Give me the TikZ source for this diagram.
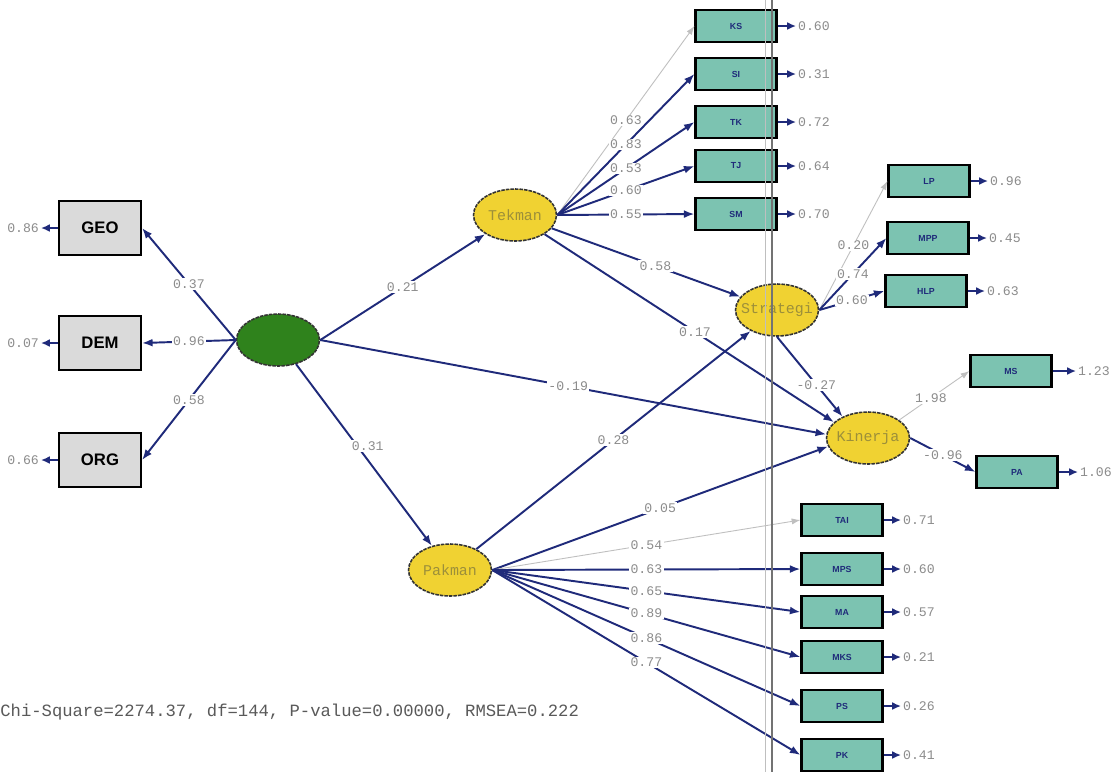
\documentclass[tikz,border=0pt]{standalone}
\usepackage{fontspec}
\setmonofont{Liberation Mono}
\setsansfont{Liberation Sans}
\definecolor{pathnavy}{HTML}{1F2A7A}
\definecolor{boxteal}{HTML}{7CC3B1}
\definecolor{boxgray}{HTML}{DADADA}
\definecolor{latyellow}{HTML}{F0D232}
\definecolor{latgreen}{HTML}{2F821C}
\definecolor{numgray}{HTML}{8C8C8C}
\definecolor{latolive}{HTML}{9C8F3A}
\usetikzlibrary{shapes,arrows.meta,positioning}

\begin{document}
\begin{tikzpicture}[x=0.02cm,y=-0.02cm,
    obs/.style={draw=black,line width=1.2pt,fill=boxgray,minimum width=1.64cm,minimum height=1.08cm,inner sep=0pt,font=\fontsize{9.5}{10}\sffamily\bfseries},
    ind/.style={draw=black,line width=1.2pt,fill=boxteal,minimum width=1.62cm,minimum height=0.64cm,inner sep=0pt,font=\fontsize{5}{6}\sffamily\bfseries,text=pathnavy},
    lat/.style={ellipse,draw=black!80,line width=0.9pt,dash pattern=on 2pt off 0.6pt,fill=latyellow,minimum width=1.66cm,minimum height=1.04cm,inner ysep=0pt,inner xsep=-0.2cm,font=\fontsize{8.5}{9}\ttfamily,text=latolive},
    lbl/.style={fill=white,inner sep=0.8pt,font=\fontsize{7.5}{8}\ttfamily,text=numgray},
    ev/.style={inner sep=1pt,font=\fontsize{7.5}{8}\ttfamily,text=numgray},
    pth/.style={draw=pathnavy,line width=1.1pt,-{Latex[length=6pt,width=4.5pt]}},
    fixd/.style={draw=black!25,line width=0.5pt,-{Latex[length=5pt,width=3.5pt]}},
    erra/.style={draw=pathnavy,line width=1.3pt,-{Latex[length=5pt,width=4.5pt]}}]
    \useasboundingbox[fill=white] (0,0) rectangle (1114,772);
    \node[obs] (GEO) at (100,228) {GEO};
    \node[obs] (DEM) at (100,343) {DEM};
    \node[obs] (ORG) at (100,460) {ORG};
    \node[ev,anchor=east] (eGEO) at (41,228) {0.86};
    \node[ev,anchor=east] (eDEM) at (41,343) {0.07};
    \node[ev,anchor=east] (eORG) at (41,460) {0.66};
    \node[lat,fill=latgreen] (G) at (278,340) {};
    \node[lat] (tek) at (515,215) {Tekman};
    \node[lat] (str) at (777,310) {Strategi};
    \node[lat] (kin) at (868,438) {Kinerja};
    \node[lat] (pak) at (450,570) {Pakman};
    \node[ind] (KS) at (736,26) {KS};
    \node[ind] (SI) at (736,74) {SI};
    \node[ind] (TK) at (736,122) {TK};
    \node[ind] (TJ) at (736,166) {TJ};
    \node[ind] (SM) at (736,214) {SM};
    \node[ind] (LP) at (929,181) {LP};
    \node[ind] (MPP) at (928,238) {MPP};
    \node[ind] (HLP) at (926,291) {HLP};
    \node[ind] (MS) at (1011,371) {MS};
    \node[ind] (PA) at (1017,472) {PA};
    \node[ind] (TAI) at (842,520) {TAI};
    \node[ind] (MPS) at (842,569) {MPS};
    \node[ind] (MA) at (842,612) {MA};
    \node[ind] (MKS) at (842,657) {MKS};
    \node[ind] (PS) at (842,706) {PS};
    \node[ind] (PK) at (842,755) {PK};
    \node[ev,anchor=west] (eKS) at (796,26) {0.60};
    \node[ev,anchor=west] (eSI) at (796,74) {0.31};
    \node[ev,anchor=west] (eTK) at (796,122) {0.72};
    \node[ev,anchor=west] (eTJ) at (796,166) {0.64};
    \node[ev,anchor=west] (eSM) at (796,214) {0.70};
    \node[ev,anchor=west] (eLP) at (988,181) {0.96};
    \node[ev,anchor=west] (eMPP) at (987,238) {0.45};
    \node[ev,anchor=west] (eHLP) at (985,291) {0.63};
    \node[ev,anchor=west] (eMS) at (1076,371) {1.23};
    \node[ev,anchor=west] (ePA) at (1078,472) {1.06};
    \node[ev,anchor=west] (eTAI) at (901,520) {0.71};
    \node[ev,anchor=west] (eMPS) at (901,569) {0.60};
    \node[ev,anchor=west] (eMA) at (901,612) {0.57};
    \node[ev,anchor=west] (eMKS) at (901,657) {0.21};
    \node[ev,anchor=west] (ePS) at (901,706) {0.26};
    \node[ev,anchor=west] (ePK) at (901,755) {0.41};
    \foreach \b in {GEO,DEM,ORG}
        \draw[erra] (\b.west) -- (e\b.east);
    \foreach \b in {KS,SI,TK,TJ,SM,LP,MPP,HLP,MS,PA,TAI,MPS,MA,MKS,PS,PK}
        \draw[erra] (\b.east) -- (e\b.west);
    \draw[pth] (G.west) -- node[lbl] {0.37} (GEO.east);
    \draw[pth] (G.west) -- node[lbl] {0.96} (DEM.east);
    \draw[pth] (G.west) -- node[lbl] {0.58} (ORG.east);
    \draw[pth] (G.east) -- node[lbl] {0.21} (tek);
    \draw[pth] (G) -- node[lbl,pos=0.45,xshift=6pt] {0.31} (pak);
    \draw[pth] (G.east) -- node[lbl,pos=0.49] {-0.19} (kin.175);
    \draw[fixd] (tek.east) -- node[lbl] {0.63} (KS.west);
    \draw[pth] (tek.east) -- node[lbl] {0.83} (SI.west);
    \draw[pth] (tek.east) -- node[lbl] {0.53} (TK.west);
    \draw[pth] (tek.east) -- node[lbl] {0.60} (TJ.west);
    \draw[pth] (tek.east) -- node[lbl] {0.55} (SM.west);
    \draw[pth] (tek) -- node[lbl,pos=0.55] {0.58} (str);
    \draw[pth] (tek) -- node[lbl,pos=0.52] {0.17} (kin.155);
    \draw[pth] (pak) -- node[lbl,pos=0.5] {0.28} (str);
    \draw[pth] (pak.east) -- node[lbl] {0.05} (kin.192);
    \draw[pth] (str.south) -- node[lbl,pos=0.6] {-0.27} (kin.140);
    \draw[fixd] (str.east) -- node[lbl] {0.20} (LP.west);
    \draw[pth] (str.east) -- node[lbl] {0.74} (MPP.west);
    \draw[pth] (str.east) -- node[lbl] {0.60} (HLP.west);
    \draw[fixd] (kin.30) -- node[lbl,pos=0.45] {1.98} (MS.west);
    \draw[pth] (kin.east) -- node[lbl,pos=0.5] {-0.96} (PA.west);
    \draw[fixd] (pak.east) -- node[lbl] {0.54} (TAI.west);
    \draw[pth] (pak.east) -- node[lbl] {0.63} (MPS.west);
    \draw[pth] (pak.east) -- node[lbl] {0.65} (MA.west);
    \draw[pth] (pak.east) -- node[lbl] {0.89} (MKS.west);
    \draw[pth] (pak.east) -- node[lbl] {0.86} (PS.west);
    \draw[pth] (pak.east) -- node[lbl] {0.77} (PK.west);
    \node[anchor=west,inner sep=0pt,font=\fontsize{9.8}{11}\ttfamily,text=black!65] (chi) at (0,712) {Chi-Square=2274.37, df=144, P-value=0.00000, RMSEA=0.222};
    \draw[black!25,line width=0.5pt] (765,0) -- (765,772);
    \draw[black!55,line width=0.6pt] (772,0) -- (772,772);
\end{tikzpicture}
\end{document}
